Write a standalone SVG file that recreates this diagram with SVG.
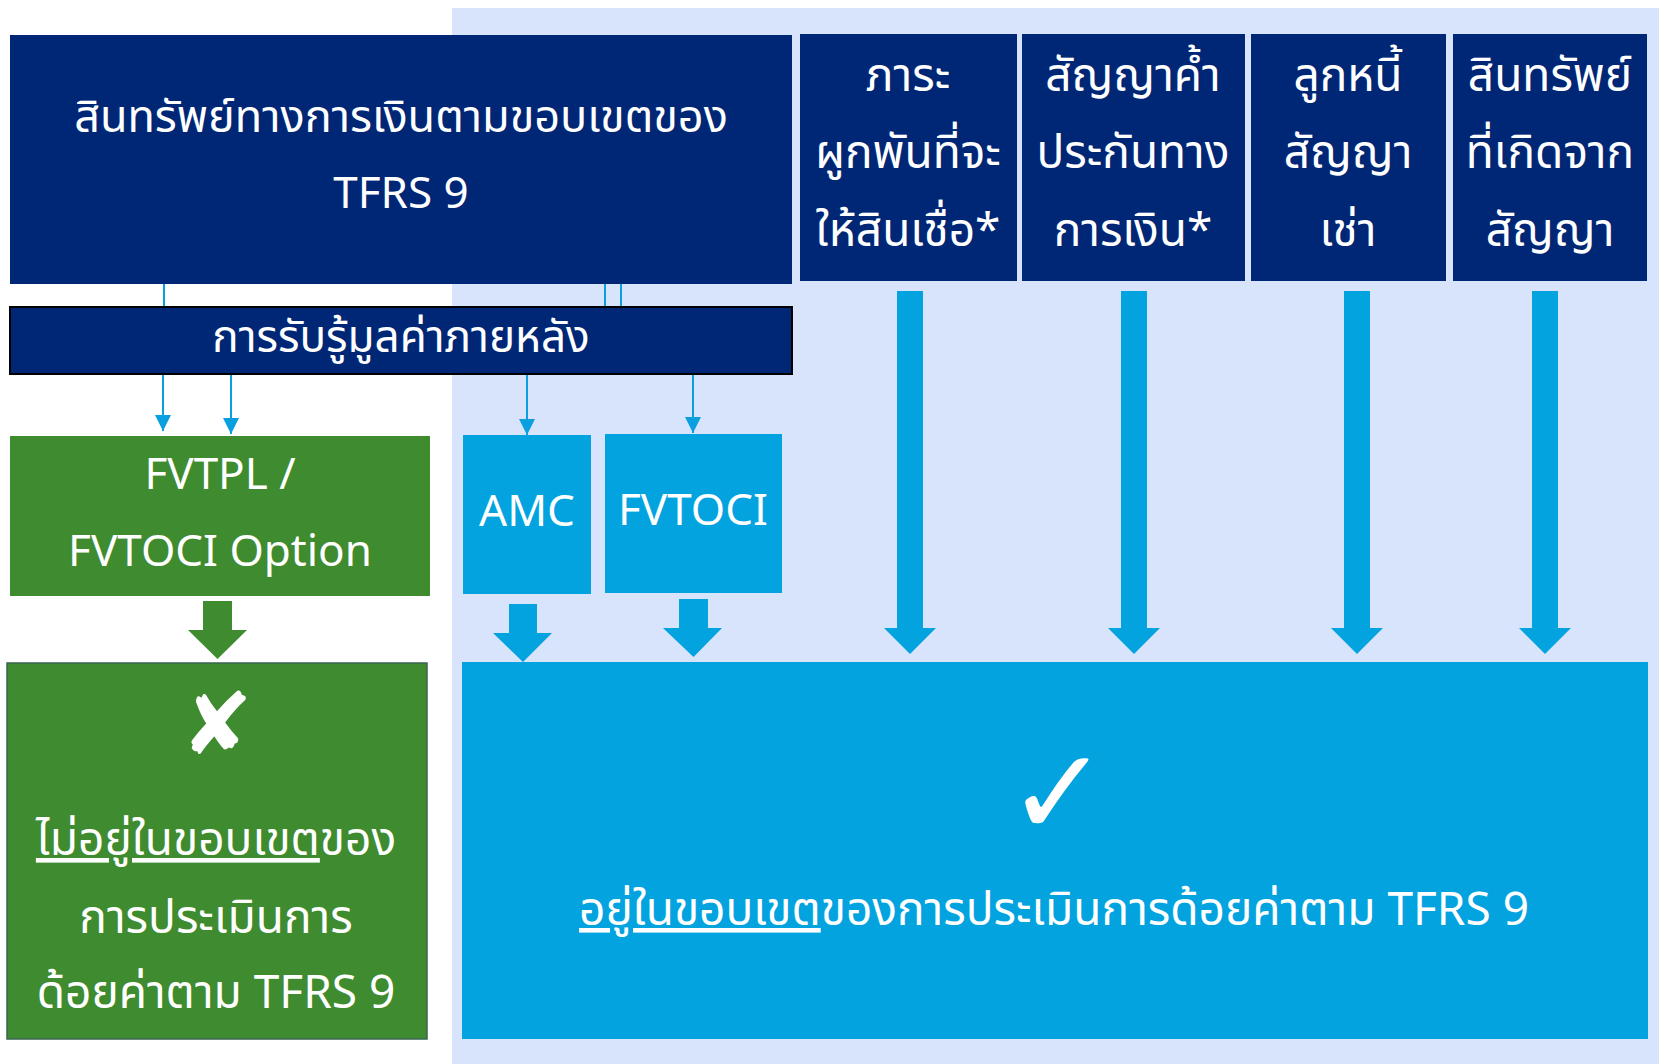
<svg xmlns="http://www.w3.org/2000/svg" width="1659" height="1064" viewBox="0 0 1659 1064">
<style>
.t{font-family:"Noto Sans Thai","Noto Sans","Leelawadee UI",sans-serif;fill:#fff;text-anchor:middle;font-size:44px}
.th{font-size:46px}
.navy{fill:#002776}
.lb{fill:#03a3e0}
.gr{fill:#3f8b2f}
.ln{stroke:#0aa0df;stroke-width:2;fill:none}
.sym{font-family:"DejaVu Sans",sans-serif}
</style>
<defs>
<marker id="ah2" viewBox="0 0 16 16" refX="16" refY="8" markerWidth="16" markerHeight="16" markerUnits="userSpaceOnUse" orient="auto">
<path d="M0,0 L16,8 L0,16 z" fill="#0aa0df"/>
</marker>
</defs>
<rect x="0" y="0" width="1659" height="1064" fill="#fff"/>
<rect x="452" y="8" width="1207" height="1056" fill="#d8e4fb"/>

<g id="connectors">
<line class="ln" x1="164" y1="284" x2="164" y2="306"/>
<line class="ln" x1="605" y1="284" x2="605" y2="306"/>
<line class="ln" x1="621" y1="284" x2="621" y2="306"/>
<line class="ln" x1="163" y1="375" x2="163" y2="431" marker-end="url(#ah2)"/>
<line class="ln" x1="231" y1="375" x2="231" y2="434" marker-end="url(#ah2)"/>
<line class="ln" x1="527" y1="375" x2="527" y2="435" marker-end="url(#ah2)"/>
<line class="ln" x1="693" y1="375" x2="693" y2="433" marker-end="url(#ah2)"/>
<polygon class="gr" points="203,601 232,601 232,630 247,630 217.5,659 188,630 203,630"/>
<polygon class="lb" points="509,604 537,604 537,633 552,633 523,662 493,633 509,633"/>
<polygon class="lb" points="679,599 708,599 708,628 722,628 693.5,657 663,628 679,628"/>
<polygon class="lb" points="897,291 923,291 923,628 936,628 910,654 884,628 897,628"/>
<polygon class="lb" points="1121,291 1147,291 1147,628 1160,628 1134,654 1108,628 1121,628"/>
<polygon class="lb" points="1344,291 1370,291 1370,628 1383,628 1357,654 1331,628 1344,628"/>
<polygon class="lb" points="1532,291 1558,291 1558,628 1571,628 1545,654 1519,628 1532,628"/>
</g>

<g id="scope">
<rect class="navy" x="10" y="35" width="782" height="249"/>
<text class="t" x="401" y="132" style="font-size:45px">สินทรัพย์ทางการเงินตามขอบเขตของ</text>
<text class="t" x="401" y="208">TFRS 9</text>
</g>

<g id="loan-commitments">
<rect class="navy" x="800" y="34" width="217" height="247"/>
<text class="t th" x="908" y="91">ภาระ</text>
<text class="t th" x="908" y="168">ผูกพันที่จะ</text>
<text class="t th" x="908" y="246">ให้สินเชื่อ*</text>
</g>
<g id="financial-guarantees">
<rect class="navy" x="1022" y="34" width="223" height="247"/>
<text class="t th" x="1133" y="91">สัญญาค้ำ</text>
<text class="t th" x="1133" y="168">ประกันทาง</text>
<text class="t th" x="1133" y="246">การเงิน*</text>
</g>
<g id="lease-receivables">
<rect class="navy" x="1251" y="34" width="195" height="247"/>
<text class="t th" x="1348" y="91">ลูกหนี้</text>
<text class="t th" x="1348" y="168">สัญญา</text>
<text class="t th" x="1348" y="246">เช่า</text>
</g>
<g id="contract-assets">
<rect class="navy" x="1453" y="34" width="194" height="247"/>
<text class="t th" x="1550" y="91">สินทรัพย์</text>
<text class="t th" x="1550" y="168">ที่เกิดจาก</text>
<text class="t th" x="1550" y="246">สัญญา</text>
</g>

<g id="subsequent-measurement">
<rect class="navy" x="10" y="307" width="782" height="67" stroke="#000" stroke-width="2"/>
<text class="t" x="401" y="352">การรับรู้มูลค่าภายหลัง</text>
</g>

<g id="fvtpl">
<rect class="gr" x="10" y="436" width="420" height="160"/>
<text class="t" x="220" y="489">FVTPL /</text>
<text class="t" x="220" y="566">FVTOCI Option</text>
</g>
<g id="amc">
<rect class="lb" x="463" y="435" width="128" height="159"/>
<text class="t" x="527" y="526">AMC</text>
</g>
<g id="fvtoci">
<rect class="lb" x="605" y="434" width="177" height="159"/>
<text class="t" x="693" y="525">FVTOCI</text>
</g>

<g id="out-of-scope">
<rect class="gr" x="7" y="663" width="420" height="376" stroke="#3a6650" stroke-width="1.5"/>
<text class="t sym" x="217" y="754" style="font-size:86px">✘</text>
<text class="t th" x="216" y="855"><tspan text-decoration="underline">ไม่อยู่ในขอบเขต</tspan>ของ</text>
<text class="t th" x="216" y="933">การประเมินการ</text>
<text class="t th" x="216" y="1008">ด้อยค่าตาม TFRS 9</text>
</g>

<g id="in-scope">
<rect class="lb" x="462" y="662" width="1186" height="377"/>
<text class="t sym" x="1058" y="835" style="font-size:122px">✓</text>
<text class="t th" x="1054" y="925"><tspan text-decoration="underline">อยู่ในขอบเขต</tspan>ของการประเมินการด้อยค่าตาม TFRS 9</text>
</g>
</svg>
